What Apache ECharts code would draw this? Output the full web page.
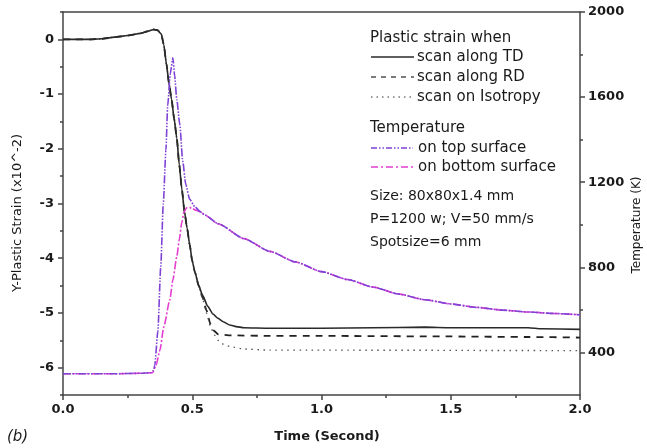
<!DOCTYPE html>
<html>
<head>
<meta charset="utf-8">
<script src="https://cdn.jsdelivr.net/npm/echarts@6/dist/echarts.min.js"></script>
<style>
  html, body { margin: 0; padding: 0; background: #fff; }
  #chart { width: 647px; height: 448px; }
</style>
</head>
<body>
<div id="chart"></div>
<script>
// Plastic strain (x10^-2) versus time for three scan conditions
const tdTime = [0, 0.1, 0.15, 0.2, 0.25, 0.3, 0.33, 0.35, 0.365, 0.38, 0.39, 0.4, 0.41, 0.42, 0.43, 0.44, 0.45, 0.46, 0.47, 0.48, 0.49, 0.5, 0.51, 0.525, 0.54, 0.56, 0.58, 0.6, 0.62, 0.645, 0.67, 0.7, 0.8, 1.0, 1.2, 1.4, 1.5, 1.8, 1.85, 2.0];
const tdStrain = [0, 0, 0.01, 0.04, 0.07, 0.11, 0.15, 0.18, 0.17, 0.1, -0.1, -0.45, -0.8, -1.1, -1.45, -1.8, -2.3, -2.75, -3.15, -3.45, -3.75, -4.05, -4.25, -4.5, -4.68, -4.88, -5.02, -5.1, -5.16, -5.22, -5.25, -5.27, -5.28, -5.28, -5.27, -5.26, -5.27, -5.27, -5.29, -5.3];

const rdTime = [0, 0.1, 0.15, 0.2, 0.25, 0.3, 0.33, 0.35, 0.365, 0.38, 0.39, 0.4, 0.41, 0.42, 0.43, 0.44, 0.45, 0.46, 0.47, 0.48, 0.49, 0.5, 0.51, 0.525, 0.54, 0.555, 0.57, 0.585, 0.6, 0.65, 0.8, 1.0, 1.5, 1.8, 2.0];
const rdStrain = [0, 0, 0.01, 0.04, 0.07, 0.11, 0.15, 0.18, 0.17, 0.1, -0.1, -0.45, -0.8, -1.1, -1.45, -1.8, -2.3, -2.75, -3.15, -3.45, -3.75, -4.05, -4.25, -4.5, -4.72, -4.95, -5.2, -5.33, -5.39, -5.41, -5.42, -5.42, -5.43, -5.44, -5.45];

const isoTime = [0, 0.1, 0.15, 0.2, 0.25, 0.3, 0.33, 0.35, 0.365, 0.38, 0.39, 0.4, 0.41, 0.42, 0.43, 0.44, 0.45, 0.46, 0.47, 0.48, 0.49, 0.5, 0.51, 0.525, 0.54, 0.555, 0.57, 0.585, 0.6, 0.62, 0.65, 0.7, 0.8, 1.0, 2.0];
const isoStrain = [0, 0, 0.01, 0.04, 0.07, 0.11, 0.15, 0.18, 0.17, 0.1, -0.1, -0.45, -0.8, -1.1, -1.45, -1.8, -2.3, -2.75, -3.15, -3.45, -3.75, -4.05, -4.25, -4.5, -4.74, -5.0, -5.24, -5.4, -5.5, -5.57, -5.62, -5.66, -5.68, -5.68, -5.69];

// Temperature (K) on the top and bottom surfaces
const topTime = [0, 0.2, 0.3, 0.34, 0.35, 0.355, 0.367, 0.378, 0.388, 0.398, 0.405, 0.415, 0.425, 0.432, 0.44, 0.452, 0.463, 0.475, 0.49, 0.51, 0.53, 0.55, 0.6, 0.7, 0.8, 0.9, 1.0, 1.1, 1.2, 1.3, 1.4, 1.5, 1.6, 1.7, 1.8, 1.9, 2.0];
const topTemp = [300, 300, 302, 305, 315, 340, 500, 800, 1100, 1350, 1560, 1710, 1785, 1700, 1590, 1470, 1300, 1190, 1120, 1085, 1062, 1045, 1005, 935, 875, 825, 780, 743, 707, 674, 648, 628, 612, 599, 590, 583, 577];

const bottomTime = [0, 0.2, 0.3, 0.347, 0.36, 0.375, 0.39, 0.413, 0.425, 0.44, 0.45, 0.459, 0.468, 0.478, 0.49, 0.5, 0.515, 0.53, 0.55, 0.6, 0.7, 0.8, 0.9, 1.0, 1.1, 1.2, 1.3, 1.4, 1.5, 1.6, 1.7, 1.8, 1.9, 2.0];
const bottomTemp = [300, 300, 302, 305, 340, 411, 520, 646, 740, 848, 930, 1008, 1060, 1080, 1082, 1076, 1068, 1062, 1045, 1005, 935, 875, 825, 780, 743, 707, 674, 648, 628, 612, 599, 590, 583, 577];

// Axis ticks
const strainTicks = [-6, -5, -4, -3, -2, -1, 0];
const strainMinor = [-6.5, -5.5, -4.5, -3.5, -2.5, -1.5, -0.5, 0.5];
const tempTicks = [400, 800, 1200, 1600, 2000];
const tempMinor = [600, 1000, 1400, 1800];

const pairs = (xs, ys) => xs.map((x, i) => [x, ys[i]]);

const FONT = 'DejaVu Sans';
const INK = '#1a1a1a';
const AXIS = '#444';
const TOP_COLOR = '#7e42d6';
const BOTTOM_COLOR = '#e23fcf';

const chart = echarts.init(document.getElementById('chart'), null, { renderer: 'canvas' });

const tickLabel = { fontFamily: FONT, fontSize: 13, fontWeight: 'bold', color: INK };
const axisLineStyle = { color: AXIS, width: 1.5 };

const option = {
  animation: false,
  backgroundColor: '#fff',
  grid: { left: 63, right: 67, top: 12, bottom: 53 },
  xAxis: [
    {
      type: 'value', min: 0, max: 2, interval: 0.5, position: 'bottom',
      axisLine: { show: true, onZero: false, lineStyle: axisLineStyle },
      axisTick: { inside: false, length: 5, lineStyle: axisLineStyle },
      minorTick: { show: true, splitNumber: 2, length: 3, lineStyle: axisLineStyle },
      axisLabel: Object.assign({ margin: 8, formatter: v => v.toFixed(1) }, tickLabel),
      splitLine: { show: false }
    },
    {
      type: 'value', min: 0, max: 2, position: 'top',
      axisLine: { show: true, onZero: false, lineStyle: axisLineStyle },
      axisTick: { show: false }, axisLabel: { show: false }, splitLine: { show: false }
    }
  ],
  yAxis: [
    {
      type: 'value', min: -6.5, max: 0.5, interval: 0.5, position: 'left',
      axisLine: { show: true, onZero: false, lineStyle: axisLineStyle },
      axisTick: { inside: false, length: 5, customValues: strainTicks, lineStyle: axisLineStyle },
      axisLabel: Object.assign({ margin: 9, customValues: strainTicks }, tickLabel),
      splitLine: { show: false }
    },
    {
      type: 'value', min: -6.5, max: 0.5, interval: 0.5, position: 'left',
      axisLine: { show: false, onZero: false },
      axisTick: { inside: false, length: 3, customValues: strainMinor, lineStyle: axisLineStyle },
      axisLabel: { show: false }, splitLine: { show: false }
    },
    {
      type: 'value', min: 200, max: 2000, interval: 200, position: 'right',
      axisLine: { show: true, onZero: false, lineStyle: axisLineStyle },
      axisTick: { inside: false, length: 5, customValues: tempTicks, lineStyle: axisLineStyle },
      axisLabel: Object.assign({ margin: 8, customValues: tempTicks, formatter: v => String(v) }, tickLabel),
      splitLine: { show: false }
    },
    {
      type: 'value', min: 200, max: 2000, interval: 200, position: 'right',
      axisLine: { show: false, onZero: false },
      axisTick: { inside: false, length: 3, customValues: tempMinor, lineStyle: axisLineStyle },
      axisLabel: { show: false }, splitLine: { show: false }
    }
  ],
  series: [
    {
      name: 'scan along TD', type: 'line', xAxisIndex: 0, yAxisIndex: 0,
      data: pairs(tdTime, tdStrain), showSymbol: false, symbol: 'none',
      smooth: 0.2, smoothMonotone: 'x', z: 3,
      lineStyle: { color: '#2a2a2a', width: 1.6, type: 'solid' }
    },
    {
      name: 'scan along RD', type: 'line', xAxisIndex: 0, yAxisIndex: 0,
      data: pairs(rdTime, rdStrain), showSymbol: false, symbol: 'none',
      smooth: 0.2, smoothMonotone: 'x', z: 2,
      lineStyle: { color: '#222', width: 1.8, type: [7, 6] }
    },
    {
      name: 'scan on Isotropy', type: 'line', xAxisIndex: 0, yAxisIndex: 0,
      data: pairs(isoTime, isoStrain), showSymbol: false, symbol: 'none',
      smooth: 0.2, smoothMonotone: 'x', z: 2,
      lineStyle: { color: '#555', width: 1.4, type: [1.5, 4.5] }
    },
    {
      name: 'on bottom surface', type: 'line', xAxisIndex: 0, yAxisIndex: 2,
      data: pairs(bottomTime, bottomTemp), showSymbol: false, symbol: 'none',
      smooth: 0.2, smoothMonotone: 'x', z: 4,
      lineStyle: { color: BOTTOM_COLOR, width: 1.6, type: [8, 2, 2, 2] }
    },
    {
      name: 'on top surface', type: 'line', xAxisIndex: 0, yAxisIndex: 2,
      data: pairs(topTime, topTemp), showSymbol: false, symbol: 'none',
      smooth: 0.2, smoothMonotone: 'x', z: 5,
      lineStyle: { color: TOP_COLOR, width: 1.6, type: [8, 1.5, 1.5, 1.5, 1.5, 1.5] }
    }
  ],
  graphic: [
    // axis titles
    { type: 'text', x: 18, y: 213, rotation: Math.PI / 2,
      style: { text: 'Y-Plastic Strain (x10^-2)', fontFamily: FONT, fontSize: 13, fill: INK, align: 'center', verticalAlign: 'middle' } },
    { type: 'text', x: 637, y: 225, rotation: Math.PI / 2,
      style: { text: 'Temperature (K)', fontFamily: FONT, fontSize: 12, fill: INK, align: 'center', verticalAlign: 'middle' } },
    { type: 'text', x: 327, y: 437,
      style: { text: 'Time (Second)', fontFamily: FONT, fontSize: 13, fontWeight: 'bold', fill: INK, align: 'center', verticalAlign: 'middle' } },
    { type: 'text', x: 7, y: 437,
      style: { text: '(b)', fontFamily: FONT, fontSize: 15, fontStyle: 'italic', fill: INK, align: 'left', verticalAlign: 'middle' } },

    // key: strain group
    { type: 'text', x: 370, y: 38, style: { text: 'Plastic strain when', fontFamily: FONT, fontSize: 15, fill: INK, verticalAlign: 'middle' } },
    { type: 'line', shape: { x1: 371, y1: 57, x2: 414, y2: 57 }, style: { stroke: '#2a2a2a', lineWidth: 1.6 } },
    { type: 'text', x: 417, y: 57, style: { text: 'scan along TD', fontFamily: FONT, fontSize: 15, fill: INK, verticalAlign: 'middle' } },
    { type: 'line', shape: { x1: 371, y1: 77, x2: 414, y2: 77 }, style: { stroke: '#444', lineWidth: 1.4, lineDash: [5, 5] } },
    { type: 'text', x: 417, y: 77, style: { text: 'scan along RD', fontFamily: FONT, fontSize: 15, fill: INK, verticalAlign: 'middle' } },
    { type: 'line', shape: { x1: 371, y1: 97, x2: 414, y2: 97 }, style: { stroke: '#777', lineWidth: 1.3, lineDash: [1.5, 4] } },
    { type: 'text', x: 417, y: 97, style: { text: 'scan on Isotropy', fontFamily: FONT, fontSize: 15, fill: INK, verticalAlign: 'middle' } },

    // key: temperature group
    { type: 'text', x: 370, y: 128, style: { text: 'Temperature', fontFamily: FONT, fontSize: 15, fill: INK, verticalAlign: 'middle' } },
    { type: 'line', shape: { x1: 371, y1: 148, x2: 413, y2: 148 }, style: { stroke: TOP_COLOR, lineWidth: 1.4, lineDash: [6, 2, 1.5, 2, 1.5, 2] } },
    { type: 'text', x: 418, y: 148, style: { text: 'on top surface', fontFamily: FONT, fontSize: 15, fill: INK, verticalAlign: 'middle' } },
    { type: 'line', shape: { x1: 371, y1: 167, x2: 413, y2: 167 }, style: { stroke: BOTTOM_COLOR, lineWidth: 1.4, lineDash: [7, 3, 2, 3] } },
    { type: 'text', x: 418, y: 167, style: { text: 'on bottom surface', fontFamily: FONT, fontSize: 15, fill: INK, verticalAlign: 'middle' } },

    // process parameters
    { type: 'text', x: 370, y: 196, style: { text: 'Size: 80x80x1.4 mm', fontFamily: FONT, fontSize: 14, fill: INK, verticalAlign: 'middle' } },
    { type: 'text', x: 370, y: 219, style: { text: 'P=1200 w; V=50 mm/s', fontFamily: FONT, fontSize: 14, fill: INK, verticalAlign: 'middle' } },
    { type: 'text', x: 370, y: 242, style: { text: 'Spotsize=6 mm', fontFamily: FONT, fontSize: 14, fill: INK, verticalAlign: 'middle' } }
  ]
};

chart.setOption(option);
</script>
</body>
</html>
